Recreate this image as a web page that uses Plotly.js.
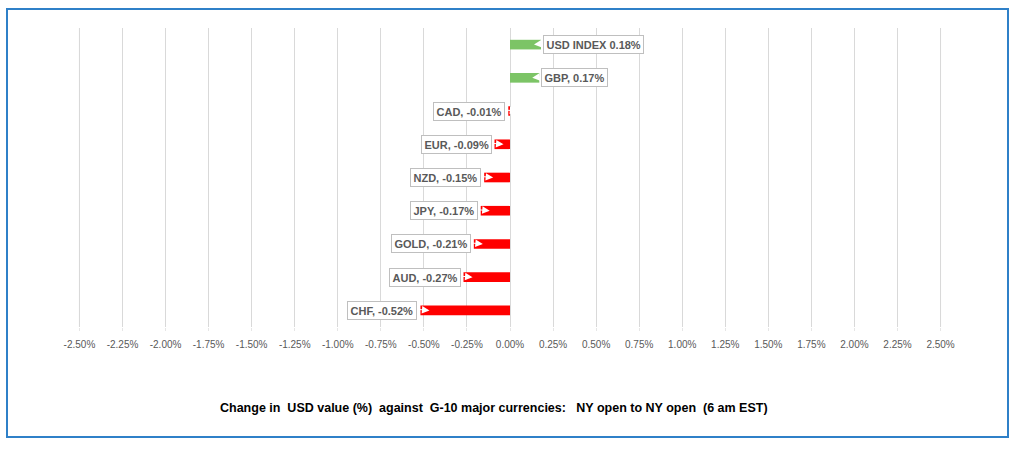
<!DOCTYPE html>
<html>
<head>
<meta charset="utf-8">
<script src="https://cdn.plot.ly/plotly-3.0.1.min.js"></script>
<style>html,body{margin:0;padding:0;background:#fff;}#chart{width:1024px;height:449px;}</style>
</head>
<body>
<div id="chart"></div>
<script>
// Data (top to bottom)
const categories = ["USD INDEX", "GBP", "CAD", "EUR", "NZD", "JPY", "GOLD", "AUD", "CHF"];
const values = [0.0018, 0.0017, -0.0001, -0.0009, -0.0015, -0.0017, -0.0021, -0.0027, -0.0052];
const labels = ["USD INDEX 0.18%", "GBP, 0.17%", "CAD, -0.01%", "EUR, -0.09%", "NZD, -0.15%", "JPY, -0.17%", "GOLD, -0.21%", "AUD, -0.27%", "CHF, -0.52%"];
const tickVals = [-0.025,-0.0225,-0.02,-0.0175,-0.015,-0.0125,-0.01,-0.0075,-0.005,-0.0025,0,0.0025,0.005,0.0075,0.01,0.0125,0.015,0.0175,0.02,0.0225,0.025];
const tickText = ["-2.50%","-2.25%","-2.00%","-1.75%","-1.50%","-1.25%","-1.00%","-0.75%","-0.50%","-0.25%","0.00%","0.25%","0.50%","0.75%","1.00%","1.25%","1.50%","1.75%","2.00%","2.25%","2.50%"];
const chartTitle = "Change in\u00a0\u00a0USD value (%)\u00a0\u00a0against\u00a0\u00a0G-10 major currencies:\u00a0\u00a0\u00a0NY open to NY open\u00a0\u00a0(6 am EST)";

const green = "#7cc466", red = "#ff0000";
const colors = values.map(v => v >= 0 ? green : red);

const trace = {
  type: "bar",
  orientation: "h",
  x: values,
  y: categories,
  marker: {color: colors},
  width: 0.29,
  hoverinfo: "none"
};

const labelFont = {family: "Liberation Sans, Arial, sans-serif", size: 11, color: "#595959", weight: "bold"};

// callout pointer (white wedge into bar end)
const pointers = categories.map((c, i) => {
  const pos = values[i] >= 0;
  return {
    x: values[i], y: c, xref: "x", yref: "y",
    text: "", showarrow: true,
    axref: "pixel", ayref: "pixel",
    ax: pos ? 9 : -12, ay: -1,
    xshift: pos ? -7 : 9, yshift: 0,
    arrowhead: 2, arrowsize: 1.5, arrowwidth: 1, arrowcolor: "#ffffff",
    standoff: 0, startstandoff: 0
  };
});

const boxes = categories.map((c, i) => ({
  x: values[i], y: c, xref: "x", yref: "y",
  text: labels[i],
  showarrow: false,
  xanchor: values[i] >= 0 ? "left" : "right",
  yanchor: "middle",
  xshift: values[i] >= 0 ? 2 : -3,
  bgcolor: "#ffffff",
  bordercolor: "#bfbfbf",
  borderwidth: 1,
  borderpad: 2.5,
  font: labelFont
}));

const annotations = pointers.concat(boxes);

annotations.push({
  xref: "paper", yref: "paper", x: 0.481, y: -0.271,
  xanchor: "center", yanchor: "middle",
  text: "<b>" + chartTitle + "</b>",
  showarrow: false,
  font: {family: "Liberation Sans, Arial, sans-serif", size: 12.5, color: "#000000"}
});

// edge gridlines (Plotly omits them at the plot border)
const edgeGrid = [tickVals[0], tickVals[tickVals.length - 1]].map(v => ({
  type: "line", xref: "x", yref: "paper", x0: v, x1: v, y0: 0, y1: 1,
  line: {color: "#d9d9d9", width: 1}, layer: "below"
}));

const layout = {
  width: 1024, height: 449,
  margin: {l: 76, r: 80, t: 28, b: 122},
  paper_bgcolor: "#ffffff",
  plot_bgcolor: "#ffffff",
  showlegend: false,
  xaxis: {
    range: [-0.0252, 0.0252],
    tickvals: tickVals,
    ticktext: tickText,
    showgrid: true,
    gridcolor: "#d9d9d9",
    gridwidth: 1,
    zeroline: true,
    zerolinecolor: "#d9d9d9",
    zerolinewidth: 1,
    showline: false,
    ticks: "outside",
    ticklen: 3,
    tickcolor: "#e6e6e6",
    ticklabelstandoff: 5,
    tickfont: {family: "Liberation Sans, Arial, sans-serif", size: 10, color: "#595959"},
    fixedrange: true
  },
  yaxis: {
    type: "category",
    autorange: "reversed",
    showticklabels: false,
    showgrid: false,
    zeroline: false,
    showline: false,
    ticks: "",
    fixedrange: true
  },
  annotations: annotations,
  shapes: edgeGrid.concat([{
    type: "rect", xref: "paper", yref: "paper",
    x0: (7 - 76) / 868, x1: (1008 - 76) / 868,
    y0: (327 - 437) / 299, y1: (327 - 9) / 299,
    line: {color: "#2f80c8", width: 2},
    fillcolor: "rgba(0,0,0,0)",
    layer: "below"
  }])
};

Plotly.newPlot("chart", [trace], layout, {displayModeBar: false, staticPlot: true});
</script>
</body>
</html>
